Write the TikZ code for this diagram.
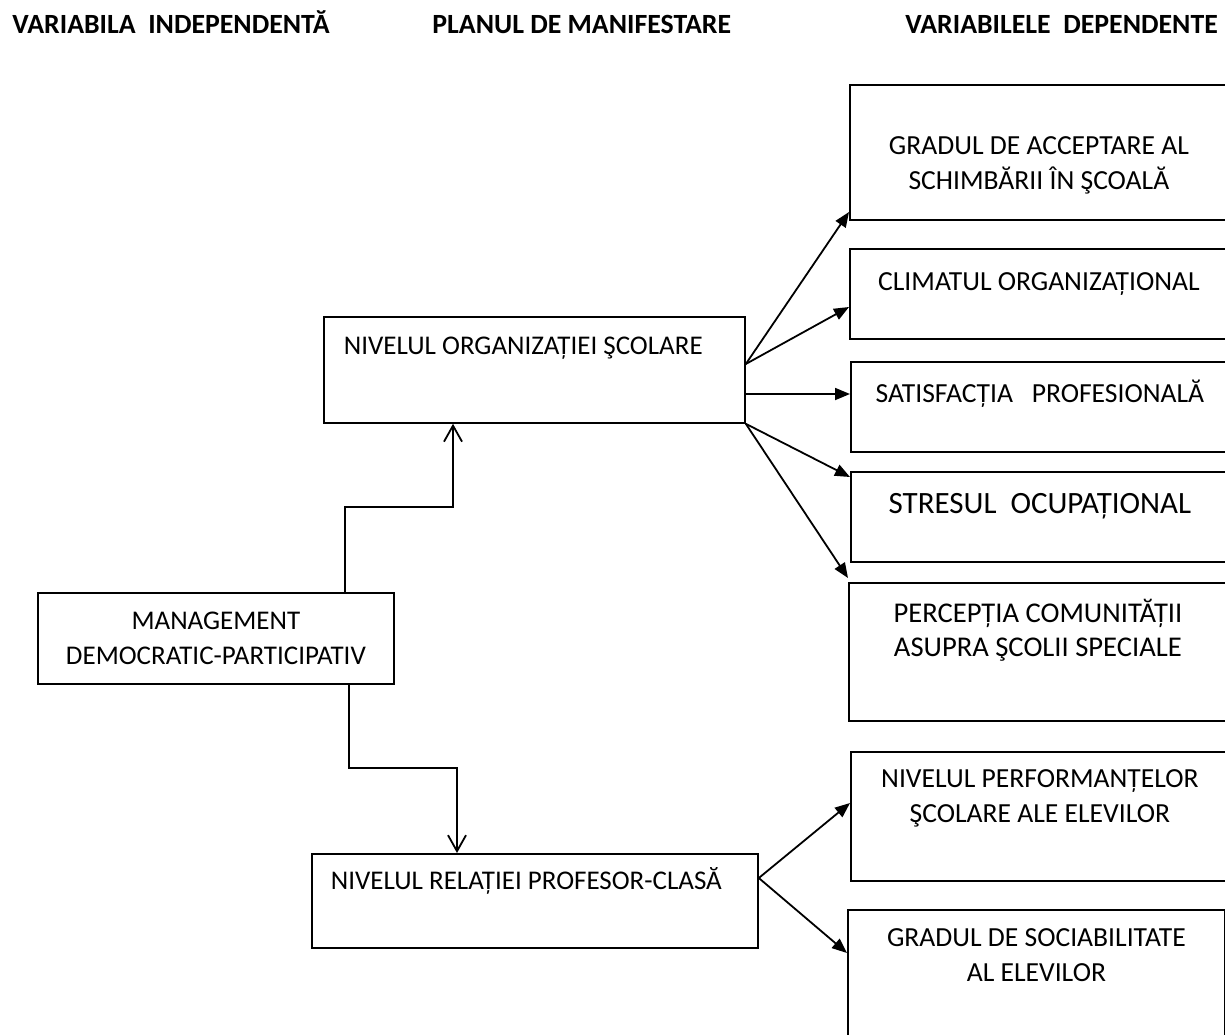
\documentclass[tikz,border=0pt]{standalone}
\usepackage{fontspec}
\setmainfont{Carlito}
\usetikzlibrary{arrows.meta}

\begin{document}
\begin{tikzpicture}[x=0.5pt,y=-0.5pt,
  every node/.style={font=\fontsize{13.5}{17.5}\selectfont},
  head/.style={anchor=base west,inner xsep=0pt,font=\fontsize{13.9}{17}\selectfont\bfseries},
  box/.style={draw,line width=0.9pt,anchor=north west,inner sep=0pt,align=center,
    execute at begin node={\spaceskip=\fontdimen2\font\relax\xspaceskip=\fontdimen2\font\relax}},
  dep/.style={box,text width=189pt,font=\fontsize{13.8}{17.5}\selectfont},
  link/.style={line width=0.9pt,-{Straight Barb[length=8pt,width=9pt,line width=0.9pt]}},
  fan/.style={line width=0.9pt,-{Triangle[length=7.5pt,width=6pt]}}]
\useasboundingbox (0,0) rectangle (1225,1034);
% column titles
\node[head] (hind) at (12,33.5) {VARIABILA~~INDEPENDENTĂ};
\node[head] (hman) at (432,33.5) {PLANUL DE MANIFESTARE};
\node[head] (hdep) at (905,33.5) {VARIABILELE~~DEPENDENTE};
% independent variable and its two levels
\node[box,text width=178pt,text height=18.25pt,text depth=27.25pt] (mgmt) at (37,592) {MANAGEMENT\\DEMOCRATIC-PARTICIPATIV};
\node[box,text width=190.5pt,inner xsep=10pt,align=left,text height=18.75pt,text depth=34.25pt] (org) at (323,316) {NIVELUL ORGANIZAȚIEI ŞCOLARE};
\node[box,text width=204pt,inner xsep=9.5pt,align=left,text height=17.75pt,text depth=29.25pt] (rel) at (311,853) {NIVELUL RELAȚIEI PROFESOR-CLASĂ};
% dependent variables
\node[dep,text height=34.75pt,text depth=32.75pt] (acc) at (849,84) {GRADUL DE ACCEPTARE AL\\SCHIMBĂRII ÎN ŞCOALĂ};
\node[dep,text height=20.75pt,text depth=24.25pt] (clim) at (849,248) {CLIMATUL ORGANIZAȚIONAL};
\node[dep,text height=20.25pt,text depth=24.75pt] (sat) at (850,361) {SATISFACȚIA~~~PROFESIONALĂ};
\node[dep,text height=20.75pt,text depth=24.25pt,font=\fontsize{15.5}{18}\selectfont] (stres) at (850,471) {STRESUL~~OCUPAȚIONAL};
\node[dep,text height=19.75pt,text depth=49.25pt,font=\fontsize{14.3}{17}\selectfont] (perc) at (848,582) {PERCEPȚIA COMUNITĂȚII\\ASUPRA ŞCOLII SPECIALE};
\node[dep,text height=17.75pt,text depth=46.75pt] (perf) at (850,751) {NIVELUL PERFORMANȚELOR\\ŞCOLARE ALE ELEVILOR};
\node[dep,text width=188.5pt,text height=18.25pt,text depth=52.25pt] (soc) at (847,909) {GRADUL DE SOCIABILITATE\\AL ELEVILOR};
% links
\draw[link] (mgmt.north -| 345,0) |- (453,507) -- (org.south -| 453,0);
\draw[link] (mgmt.south -| 349,0) |- (457,768) -- (rel.north -| 457,0);
\foreach \tgt/\y in {acc/212,clim/307}
  \draw[fan] (org.east |- 0,364) -- (\tgt.west |- 0,\y);
\draw[fan] (org.east |- 0,394) -- (sat.west |- 0,394);
\foreach \tgt/\y in {stres/477,perc/578}
  \draw[fan] (org.south east) -- (\tgt.west |- 0,\y);
\foreach \tgt/\y in {perf/803,soc/953}
  \draw[fan] (rel.east |- 0,878) -- (\tgt.west |- 0,\y);
\end{tikzpicture}
\end{document}
